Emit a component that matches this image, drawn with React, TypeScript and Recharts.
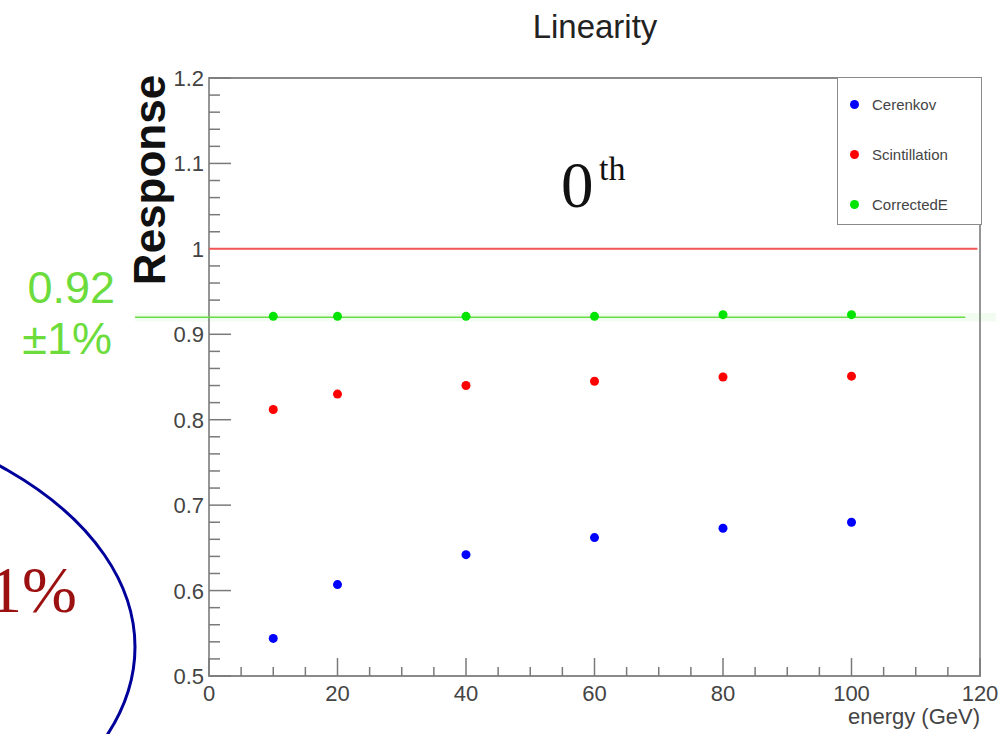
import React from 'react';
import {
  ScatterChart,
  Scatter,
  XAxis,
  YAxis,
  ReferenceLine,
  ReferenceArea,
  Legend,
} from 'recharts';

// ---------- data ----------
const energies = [10, 20, 40, 60, 80, 100];
const cerenkov = [0.544, 0.607, 0.642, 0.662, 0.673, 0.68];
const scintillation = [0.812, 0.83, 0.84, 0.845, 0.85, 0.851];
const correctedE = [0.921, 0.921, 0.921, 0.921, 0.923, 0.923];

const seriesNames = ['Cerenkov', 'Scintillation', 'CorrectedE'];
const seriesColors = ['#0000FF', '#FF0000', '#00E400'];

const xTicks = [0, 5, 10, 15, 20, 25, 30, 35, 40, 45, 50, 55, 60, 65, 70, 75, 80, 85, 90, 95, 100, 105, 110, 115, 120];
const xMajorTicks = [0, 20, 40, 60, 80, 100, 120];
const yTicks = [
  0.5, 0.52, 0.54, 0.56, 0.58, 0.6, 0.62, 0.64, 0.66, 0.68, 0.7, 0.72, 0.74, 0.76, 0.78,
  0.8, 0.82, 0.84, 0.86, 0.88, 0.9, 0.92, 0.94, 0.96, 0.98, 1, 1.02, 1.04, 1.06, 1.08,
  1.1, 1.12, 1.14, 1.16, 1.18, 1.2,
];
const yMajorTicks = [0.5, 0.6, 0.7, 0.8, 0.9, 1, 1.1, 1.2];

const referenceResponse = 1;
const correctedLevel = 0.92;
const greenLineStart = -11.5;
const greenLineEnd = 117.7;
const coveredTicks = [referenceResponse, correctedLevel];

const toRows = (vals: number[]) => energies.map((e, i) => ({ x: e, y: vals[i] }));
const cerenkovRows = toRows(cerenkov);
const scintRows = toRows(scintillation);
const correctedRows = toRows(correctedE);

const SANS = '"Liberation Sans", Arial, Helvetica, sans-serif';
const SERIF = '"Liberation Serif", "Times New Roman", serif';

const renderXTick = (props: any) => {
  const { x, y, payload } = props;
  const v = payload.value;
  const major = xMajorTicks.includes(v);
  return (
    <g key={`xt-${v}`}>
      <line x1={x} x2={x} y1={y} y2={y - (major ? 18 : 9)} stroke="#7a7a7a" strokeWidth={1.5} />
      {major && (
        <text x={x} y={y + 25} textAnchor="middle" fontSize={22} fontFamily={SANS} fill="#444">
          {v}
        </text>
      )}
    </g>
  );
};

const renderYTick = (props: any) => {
  const { x, y, payload } = props;
  const v = payload.value;
  const major = yMajorTicks.includes(v);
  const covered = coveredTicks.includes(v);
  return (
    <g key={`yt-${v}`}>
      {!covered && (
        <line x1={x} x2={x + (major ? 22 : 11)} y1={y} y2={y} stroke="#7a7a7a" strokeWidth={1.5} />
      )}
      {major && (
        <text x={x - 5} y={y + 8} textAnchor="end" fontSize={22} fontFamily={SANS} fill="#444">
          {String(v)}
        </text>
      )}
    </g>
  );
};

const renderLegend = (props: any) => {
  const payload = [...(props.payload || [])].sort(
    (a: any, b: any) => seriesNames.indexOf(a.value) - seriesNames.indexOf(b.value)
  );
  return (
    <div
      style={{
        width: 145,
        height: 148,
        border: '1.5px solid #8a8a8a',
        background: '#fff',
        boxSizing: 'border-box',
        position: 'relative',
        fontFamily: SANS,
      }}
    >
      {payload.map((p: any, i: number) => (
        <div
          key={p.value}
          style={{
            position: 'absolute',
            left: 0,
            top: 15 + i * 50,
            height: 22,
            display: 'flex',
            alignItems: 'center',
          }}
        >
          <span
            style={{
              marginLeft: 12,
              width: 9,
              height: 9,
              borderRadius: '50%',
              background: p.color,
              display: 'inline-block',
            }}
          />
          <span style={{ marginLeft: 13, fontSize: 15, color: '#444' }}>{p.value}</span>
        </div>
      ))}
    </div>
  );
};

const dot = (color: string) => (p: any) => <circle cx={p.cx} cy={p.cy} r={4.5} fill={color} />;

export default function App() {
  return (
    <div style={{ position: 'absolute', left: 0, top: 0, width: 1002, height: 734, background: '#fff', overflow: 'hidden' }}>
      <ScatterChart
        width={1002}
        height={734}
        margin={{ top: 78, right: 22, bottom: 0, left: 149 }}
      >
        <XAxis
          type="number"
          dataKey="x"
          domain={[0, 120]}
          ticks={xTicks}
          interval={0}
          height={58}
          tickSize={0}
          tickMargin={0}
          tickLine={false}
          axisLine={false}
          tick={renderXTick}
          allowDataOverflow
        />
        <YAxis
          type="number"
          dataKey="y"
          domain={[0.5, 1.2]}
          ticks={yTicks}
          interval={0}
          width={60}
          tickSize={0}
          tickMargin={0}
          tickLine={false}
          axisLine={false}
          tick={renderYTick}
          allowDataOverflow
        />
        <ReferenceArea
          x1={0}
          x2={120}
          y1={0.5}
          y2={1.2}
          fill="none"
          fillOpacity={0}
          stroke="#8a8a8a"
          strokeWidth={1.8}
        />
        <ReferenceArea
          x1={greenLineStart}
          x2={122.5}
          y1={0.915}
          y2={0.925}
          fill="#66dd44"
          fillOpacity={0.08}
          stroke="none"
          ifOverflow="visible"
        />
        <ReferenceLine
          segment={[
            { x: 0, y: referenceResponse },
            { x: 119.6, y: referenceResponse },
          ]}
          stroke="#f05454"
          strokeWidth={2}
        />
        <ReferenceLine
          segment={[
            { x: greenLineStart, y: correctedLevel },
            { x: greenLineEnd, y: correctedLevel },
          ]}
          stroke="#66dd44"
          strokeWidth={1.6}
          ifOverflow="visible"
        />
        <Scatter name={seriesNames[0]} data={cerenkovRows} fill={seriesColors[0]} shape={dot(seriesColors[0])} isAnimationActive={false} />
        <Scatter name={seriesNames[1]} data={scintRows} fill={seriesColors[1]} shape={dot(seriesColors[1])} isAnimationActive={false} />
        <Scatter name={seriesNames[2]} data={correctedRows} fill={seriesColors[2]} shape={dot(seriesColors[2])} isAnimationActive={false} />
        <Legend
          layout="vertical"
          align="center"
          verticalAlign="middle"
          content={renderLegend}
          wrapperStyle={{ position: 'absolute', left: 837, top: 77, width: 145, height: 148 }}
        />
      </ScatterChart>
      <svg
        width={1002}
        height={734}
        style={{ position: 'absolute', left: 0, top: 0, pointerEvents: 'none' }}
      >
        <text x={595} y={38} textAnchor="middle" fontSize={33} fontFamily={SANS} fill="#222">
          Linearity
        </text>
        <text
          transform="translate(165,180) rotate(-90)"
          textAnchor="middle"
          fontSize={44}
          fontWeight="bold"
          fontFamily={SANS}
          fill="#111"
        >
          Response
        </text>
        <text x={980} y={724} textAnchor="end" fontSize={22} fontFamily={SANS} fill="#444">
          energy (GeV)
        </text>
        <text x={561} y={207} fontSize={65} fontFamily={SERIF} fill="#111">
          0
        </text>
        <text x={599} y={180} fontSize={34} fontFamily={SERIF} fill="#111">
          th
        </text>
        <text x={115} y={303} textAnchor="end" fontSize={45} fontFamily={SANS} fill="#6cdc3c">
          0.92
        </text>
        <text x={112} y={354} textAnchor="end" fontSize={45} fontFamily={SANS} fill="#6cdc3c">
          ±1%
        </text>
        <text x={77} y={612} textAnchor="end" fontSize={66} fontFamily={SERIF} fill="#9b1010">
          1%
        </text>
        <ellipse cx={-300} cy={647} rx={435} ry={250} fill="none" stroke="#00009a" strokeWidth={3} />
      </svg>
    </div>
  );
}
